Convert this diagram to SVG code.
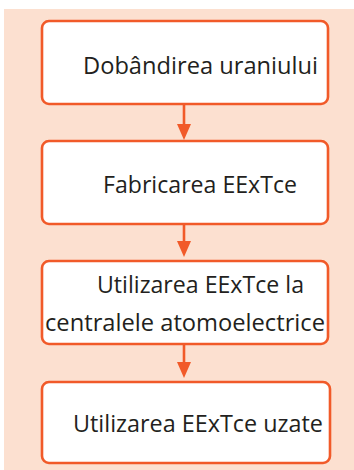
<svg xmlns="http://www.w3.org/2000/svg" width="354" height="470" viewBox="0 0 354 470">
<defs>
<style>
.box{fill:#ffffff;stroke:#f15a29;stroke-width:2.6}
.t{font-family:"Open Sans","Liberation Sans",sans-serif;font-size:24px;fill:#231f20}
.c{stroke:#f15a29;stroke-width:2.6;fill:none}
.h{fill:#f15a29}
</style>
</defs>
<rect x="4" y="9" width="350" height="461" fill="#fce0d0"/>
<g id="connectors">
<line class="c" x1="184" y1="104" x2="184" y2="126"/>
<path class="h" d="M177,124 L191,124 L184,140 Z"/>
<line class="c" x1="184" y1="224" x2="184" y2="243"/>
<path class="h" d="M177,241 L191,241 L184,257 Z"/>
<line class="c" x1="184" y1="344" x2="184" y2="364"/>
<path class="h" d="M177,362 L191,362 L184,378 Z"/>
</g>
<g id="n1">
<rect class="box" x="42" y="21" width="286" height="83" rx="7"/>
<text class="t" x="83" y="74" textLength="235" lengthAdjust="spacingAndGlyphs">Dobândirea uraniului</text>
</g>
<g id="n2">
<rect class="box" x="42" y="141" width="286" height="83" rx="7"/>
<text class="t" x="103" y="193" textLength="194" lengthAdjust="spacingAndGlyphs">Fabricarea EExTce</text>
</g>
<g id="n3">
<rect class="box" x="42" y="261" width="286" height="83" rx="7"/>
<text class="t" x="97" y="293" textLength="207" lengthAdjust="spacingAndGlyphs">Utilizarea EExTce la</text>
<text class="t" x="45" y="331" textLength="280" lengthAdjust="spacingAndGlyphs">centralele atomoelectrice</text>
</g>
<g id="n4">
<rect class="box" x="42" y="382" width="288" height="81" rx="7"/>
<text class="t" x="73" y="432" textLength="250" lengthAdjust="spacingAndGlyphs">Utilizarea EExTce uzate</text>
</g>
</svg>
